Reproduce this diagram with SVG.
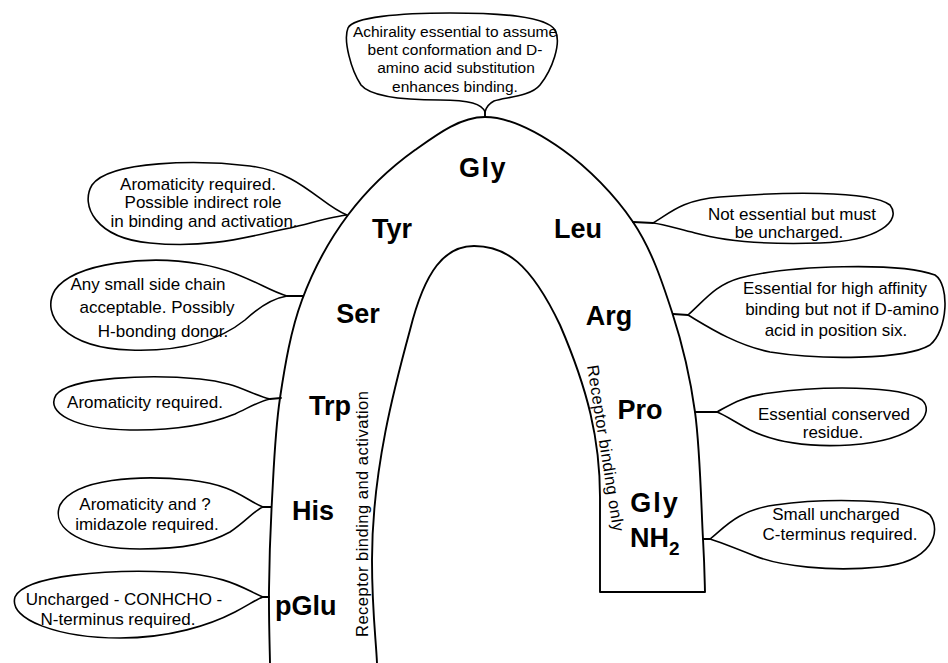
<svg xmlns="http://www.w3.org/2000/svg" width="948" height="663" viewBox="0 0 948 663">
<style>
.ln{fill:none;stroke:#000;stroke-width:1.9;stroke-linejoin:round;stroke-linecap:round}
.bub{fill:#fff;stroke:#000;stroke-width:1.6;stroke-linejoin:round}
.t{font-family:"Liberation Sans",Arial,sans-serif;font-size:17px;fill:#000;text-anchor:middle}
.tt{font-family:"Liberation Sans",Arial,sans-serif;font-size:15.5px;fill:#000;text-anchor:middle}
.aa{font-family:"Liberation Sans",Arial,sans-serif;font-size:27px;font-weight:bold;fill:#000;text-anchor:middle}
.v{font-family:"Liberation Sans",Arial,sans-serif;font-size:16.5px;fill:#000}
</style>
<rect width="948" height="663" fill="#fff"/>
<g id="arch">
<path class="ln" d="M270,663 C269.8,650.8 268.7,617.2 269,590 C269.3,562.8 270.2,532 272,500 C273.8,468 275,431.3 280,398 C285,364.7 290.7,330.5 302,300 C313.3,269.5 329.2,240 348,215 C366.8,190 392.2,166.3 415,150 C437.8,133.7 460.3,117 485,117 C509.7,117 538.3,132.5 563,150 C587.7,167.5 614.8,195 633,222 C651.2,249 661.7,280.3 672,312 C682.3,343.7 689.8,374.2 695,412 C700.2,449.8 701.3,509 703,539 C704.7,569 704.7,583.2 705,592 L600,592 L600,497 C600,440 588,390 560,325 C530,262 505,246 474,246 C445,246 425,270 410,330 C395,385 372,470 372,560 C372,610 376,640 377,663"/>
<text class="v" transform="translate(368,514) rotate(-90)" text-anchor="middle" textLength="246" lengthAdjust="spacing">Receptor binding and activation</text>
<text class="v" transform="translate(587,366) rotate(81)" textLength="168" lengthAdjust="spacing">Receptor binding only</text>
</g>
<g id="residues">
<text class="aa" x="483" y="177" letter-spacing="1.5">Gly</text>
<text class="aa" x="392" y="238">Tyr</text>
<text class="aa" x="578" y="238">Leu</text>
<text class="aa" x="358" y="323">Ser</text>
<text class="aa" x="609" y="325">Arg</text>
<text class="aa" x="330" y="415">Trp</text>
<text class="aa" x="640" y="419">Pro</text>
<text class="aa" x="313" y="520">His</text>
<text class="aa" x="655" y="512" letter-spacing="2">Gly</text>
<text class="aa" x="630" y="547" style="text-anchor:start">NH<tspan font-size="19" dy="8">2</tspan></text>
<text class="aa" x="275" y="615" style="text-anchor:start">pGlu</text>
</g>
<g id="connectors">
<path class="ln" d="M485,112 L485,117 M287,296 L303,296 M270,399 L281,398 M263,507 L271,507 M263,597 L269,597 M653,223 L633,222 M688,315 L673,314 M717,412 L695,412 M710,539 L703,539"/>
</g>
<g id="c-gly">
<path class="bub" d="M485,112 C482,104 470,100 440,100 C400,100 370,96 361,85 C351,70 343,40 348,28 C353,17 400,13 450,13 C500,13 546,16 555,30 C562,43 552,70 540,85 C530,97 505,97 494,101 C488,104 486,108 485,112 Z"/>
<text class="tt" x="455" y="37">Achirality essential to assume</text>
<text class="tt" x="455" y="55">bent conformation and D-</text>
<text class="tt" x="456" y="73">amino acid substitution</text>
<text class="tt" x="455" y="92">enhances binding.</text>
</g>
<g id="c-tyr">
<path class="bub" d="M347,215 C322,206 300,172 250,166 C200,160 110,160 92,185 C80,205 95,238 150,243 C210,249 250,236 290,228 C315,222 335,216 347,215 Z"/>
<text class="t" x="198" y="190">Aromaticity required.</text>
<text class="t" x="203" y="208">Possible indirect role</text>
<text class="t" x="204" y="227">in binding and activation.</text>
</g>
<g id="c-ser">
<path class="bub" d="M287,296 C265,290 245,272 200,264 C150,255 75,262 55,290 C40,315 65,348 130,350 C190,352 225,336 245,320 C260,306 275,298 287,296 Z"/>
<text class="t" x="148" y="290">Any small side chain</text>
<text class="t" x="157" y="313">acceptable.  Possibly</text>
<text class="t" x="163" y="337">H-bonding donor.</text>
</g>
<g id="c-trp">
<path class="bub" d="M270,399 C250,394 235,382 200,379 C150,374 70,377 56,395 C45,413 75,429 130,430 C185,431 215,422 235,414 C250,407 260,401 270,399 Z"/>
<text class="t" x="145" y="408">Aromaticity required.</text>
</g>
<g id="c-his">
<path class="bub" d="M263,507 C245,500 235,485 190,480 C140,475 75,478 60,505 C50,530 85,549 140,549 C185,549 210,543 230,532 C245,522 255,510 263,507 Z"/>
<text class="t" x="145" y="510">Aromaticity and ?</text>
<text class="t" x="147" y="530">imidazole required.</text>
</g>
<g id="c-pglu">
<path class="bub" d="M263,597 C245,590 230,575 170,572 C110,569 25,575 15,597 C8,620 60,638 120,638 C170,638 210,625 235,612 C250,604 257,599 263,597 Z"/>
<text class="t" x="124" y="605">Uncharged - CONHCHO -</text>
<text class="t" x="118" y="625">N-terminus required.</text>
</g>
<g id="c-leu">
<path class="bub" d="M653,223 C668,215 680,200 720,197 C780,192 870,190 890,205 C902,220 880,241 820,243 C760,245 720,240 695,233 C675,228 662,224 653,223 Z"/>
<text class="t" x="792" y="220">Not essential but must</text>
<text class="t" x="789" y="238">be uncharged.</text>
</g>
<g id="c-arg">
<path class="bub" d="M688,315 C705,300 715,285 740,278 C790,265 900,262 935,275 C950,285 948,330 930,345 C905,360 820,360 770,352 C735,345 705,325 688,315 Z"/>
<text class="t" x="835" y="294">Essential for high affinity</text>
<text class="t" x="842" y="315">binding but not if D-amino</text>
<text class="t" x="836" y="336">acid in position six.</text>
</g>
<g id="c-pro">
<path class="bub" d="M717,412 C730,405 740,397 770,393 C820,386 900,385 922,400 C935,412 920,440 850,445 C800,448 770,440 750,430 C735,422 725,415 717,412 Z"/>
<text class="t" x="834" y="420">Essential conserved</text>
<text class="t" x="833" y="438">residue.</text>
</g>
<g id="c-gly-nh2">
<path class="bub" d="M710,539 C725,527 738,510 775,505 C825,498 910,498 930,515 C942,532 932,562 880,567 C830,572 780,566 755,556 C735,548 720,542 710,539 Z"/>
<text class="t" x="836" y="520">Small uncharged</text>
<text class="t" x="840" y="540">C-terminus required.</text>
</g>
</svg>
